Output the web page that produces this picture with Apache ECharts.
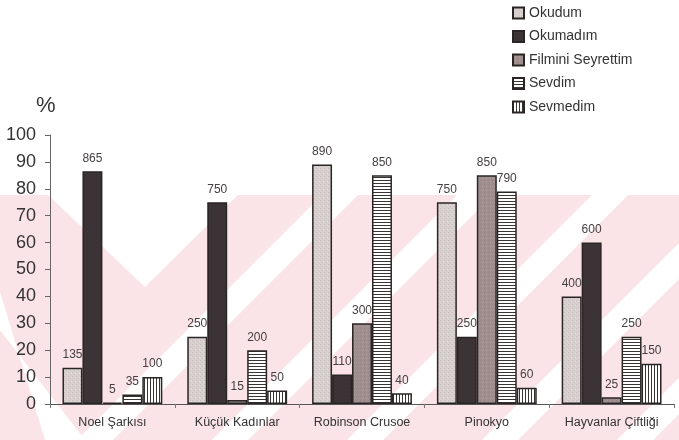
<!DOCTYPE html>
<html>
<head>
<meta charset="utf-8">
<script src="https://cdn.jsdelivr.net/npm/echarts@6/dist/echarts.min.js"></script>
<style>
  html, body { margin: 0; padding: 0; background: #fff; }
  #chart { width: 679px; height: 440px; }
</style>
</head>
<body>
<div id="chart"></div>
<script>
// Books and answers (counts out of 1000 pupils; bars are drawn in percent)
const categories = ['Noel Şarkısı', 'Küçük Kadınlar', 'Robinson Crusoe', 'Pinokyo', 'Hayvanlar Çiftliği'];
const seriesNames = ['Okudum', 'Okumadım', 'Filmini Seyrettim', 'Sevdim', 'Sevmedim'];
const okudum   = [135, 250, 890, 750, 400];
const okumadim = [865, 750, 110, 250, 600];
const filmini  = [5, 15, 300, 850, 25];
const sevdim   = [35, 200, 850, 790, 250];
const sevmedim = [100, 50, 40, 60, 150];
const yMin = 0, yMax = 100, yStep = 10;

const FONT = 'Arial, "Liberation Sans", sans-serif';

// Small canvas tiles used as fill patterns
function tile(w, h, base, marks) {
  const c = document.createElement('canvas');
  c.width = w; c.height = h;
  const g = c.getContext('2d');
  g.fillStyle = base; g.fillRect(0, 0, w, h);
  marks.forEach(([x, y, col]) => { g.fillStyle = col; g.fillRect(x, y, 1, 1); });
  return { image: c, repeat: 'repeat' };
}
function lines(horizontal) {
  const c = document.createElement('canvas');
  c.width = horizontal ? 4 : 3; c.height = horizontal ? 3 : 4;
  const g = c.getContext('2d');
  g.fillStyle = '#ffffff'; g.fillRect(0, 0, c.width, c.height);
  g.fillStyle = '#3a3535';
  if (horizontal) g.fillRect(0, 0, c.width, 1); else g.fillRect(0, 0, 1, c.height);
  return { image: c, repeat: 'repeat' };
}
const fills = [
  tile(4, 4, '#d8d0ce', [[0, 0, '#c8bebc'], [2, 2, '#cbc1bf'], [3, 1, '#e4dcda']]),
  tile(4, 4, '#3a3234', [[1, 1, '#463c3e'], [3, 3, '#423839']]),
  tile(4, 4, '#a18f8f', [[0, 0, '#958383'], [2, 2, '#ad9d9d'], [1, 3, '#998787']]),
  lines(true),
  lines(false)
];
const values = [okudum, okumadim, filmini, sevdim, sevmedim];

const series = seriesNames.map((name, i) => ({
  name,
  type: 'bar',
  barGap: '0%',
  barCategoryGap: '20%',
  data: values[i].map(v => v / 10),
  itemStyle: { color: fills[i], borderColor: '#2a2525', borderWidth: 1.5 },
  label: {
    show: true,
    position: 'top',
    distance: 7,
    fontFamily: FONT,
    fontSize: 12,
    color: '#454040',
    formatter: p => String(values[i][p.dataIndex])
  }
}));

// Pale background emblem behind the plot
const PINK = '#fbe4e8';
const bands = [535, 670, 805, 940, 1075];
const emblem = [
  { type: 'rect', shape: { x: 0, y: 195, width: 679, height: 245 }, style: { fill: PINK } },
  { type: 'polygon', shape: { points: [[48, 195], [145, 287], [238, 195]] }, style: { fill: '#fff' } },
  { type: 'polygon', shape: { points: [[0, 292], [0, 330], [85, 440], [45, 440]] }, style: { fill: '#fff' } }
].concat(bands.map(c => ({
  type: 'polygon',
  shape: { points: [[c - 18 - 195, 195], [c + 18 - 195, 195], [c + 18 - 440, 440], [c - 18 - 440, 440]] },
  style: { fill: '#fff' }
}))).map(e => Object.assign(e, { z: -10, silent: true }));

const chart = echarts.init(document.getElementById('chart'), null, { renderer: 'canvas' });
chart.setOption({
  animation: false,
  backgroundColor: '#fff',
  textStyle: { fontFamily: FONT },
  grid: { left: 50, right: 5, top: 135, bottom: 36 },
  legend: {
    orient: 'vertical',
    left: 507,
    top: 1,
    itemWidth: 11,
    itemHeight: 11,
    itemGap: 9.5,
    icon: 'rect',
    data: seriesNames,
    textStyle: { fontSize: 14, color: '#333', fontFamily: FONT }
  },
  xAxis: {
    type: 'category',
    data: categories,
    axisLine: { lineStyle: { color: '#555', width: 1 } },
    axisTick: { show: true, length: 4, lineStyle: { color: '#777' } },
    axisLabel: { interval: 0, fontSize: 12.5, color: '#333', margin: 12 }
  },
  yAxis: {
    type: 'value',
    min: yMin,
    max: yMax,
    interval: yStep,
    axisLine: { show: true, lineStyle: { color: '#666', width: 1 } },
    axisTick: { show: true, length: 5, lineStyle: { color: '#666' } },
    splitLine: { show: false },
    axisLabel: { fontSize: 18, color: '#333', margin: 14 }
  },
  graphic: emblem.concat([{
    type: 'text',
    left: 36,
    top: 95,
    style: { text: '%', fontSize: 22, fill: '#333', fontFamily: FONT }
  }]),
  series
});
</script>
</body>
</html>
